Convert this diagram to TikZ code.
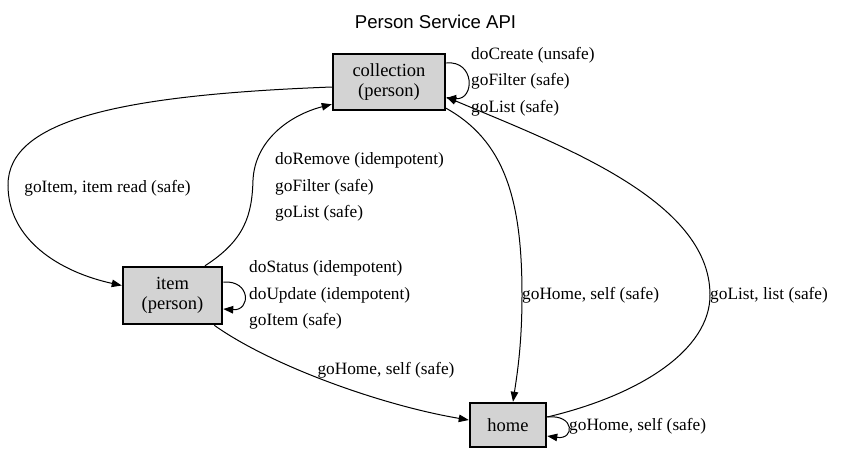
\documentclass[tikz,border=0pt]{standalone}
\usepackage{fontspec}
\setmainfont{Liberation Serif}
\newfontfamily\titlefont{Liberation Sans}
\usepackage{tikz}
\usetikzlibrary{arrows.meta}
\definecolor{stategray}{HTML}{D3D3D3}

\begin{document}
\begin{tikzpicture}[x=1pt,y=-1pt,
    state/.style={draw,line width=2.5pt,fill=stategray,align=center,inner sep=0pt,font=\fontsize{18.5}{20}\selectfont},
    lbl/.style={anchor=west,inner sep=0pt,align=left,font=\fontsize{17.3}{26.7}\selectfont},
    trans/.style={line width=1pt,-{Triangle[length=10pt,width=7.5pt]}}]
    \useasboundingbox (0,0) rectangle (843,475);
    \node[font=\titlefont\fontsize{18.6}{20}\selectfont] (title) at (435.5,22) {Person Service API};
    % states
    \node[state,minimum width=112,minimum height=56] (collection) at (389,82) {collection\\(person)};
    \node[state,minimum width=99,minimum height=57] (item) at (172.5,295.5) {item\\(person)};
    \node[state,minimum width=76,minimum height=44] (home) at (508,425) {home};
    % transitions between states
    \draw[trans] ([yshift=-5pt]collection.west) .. controls (120,95) and (8,120) .. (8,185) .. controls (8,240) and (60,272) .. ([yshift=10pt]item.west);
    \node[lbl,anchor=center] (l-goitem) at (107.5,188) {goItem, item read (safe)};
    \draw[trans] ([xshift=32.5pt]item.north) .. controls (245,240) and (252,215) .. (253,180) .. controls (255,140) and (290,115) .. ([yshift=7pt]collection.south west);
    \node[lbl] (l-itemcoll) at (275,187) {doRemove (idempotent)\\goFilter (safe)\\goList (safe)};
    \draw[trans] ([xshift=-2pt,yshift=4pt]collection.south east) .. controls (505,140) and (522,200) .. (522,295) .. controls (522,345) and (517,375) .. ([xshift=5pt]home.north);
    \node[lbl] (l-collhome) at (522,295) {goHome, self (safe)};
    \draw[trans] ([yshift=8pt]home.east) .. controls (640,395) and (710,350) .. (710,295) .. controls (710,200) and (560,145) .. ([yshift=-15pt]collection.east);
    \node[lbl] (l-homecoll) at (710,295) {goList, list (safe)};
    \draw[trans] ([xshift=-9pt]item.south east) .. controls (270,365) and (380,405) .. ([yshift=5pt]home.west);
    \node[lbl,anchor=center] (l-itemhome) at (386,370) {goHome, self (safe)};
    % self loops
    \draw[trans] ([yshift=19pt]collection.east) .. controls (475,60) and (475,100) .. ([yshift=-16pt]collection.east);
    \node[lbl] (l-collself) at (471,81.5) {doCreate (unsafe)\\goFilter (safe)\\goList (safe)};
    \draw[trans] ([yshift=13.5pt]item.east) .. controls (251,280) and (251,311) .. ([yshift=-13.5pt]item.east);
    \node[lbl] (l-itemself) at (249,295) {doStatus (idempotent)\\doUpdate (idempotent)\\goItem (safe)};
    \draw[trans] ([yshift=8pt]home.east) .. controls (575,414) and (575,440) .. ([yshift=-11pt]home.east);
    \node[lbl] (l-homeself) at (569,426) {goHome, self (safe)};
\end{tikzpicture}
\end{document}
